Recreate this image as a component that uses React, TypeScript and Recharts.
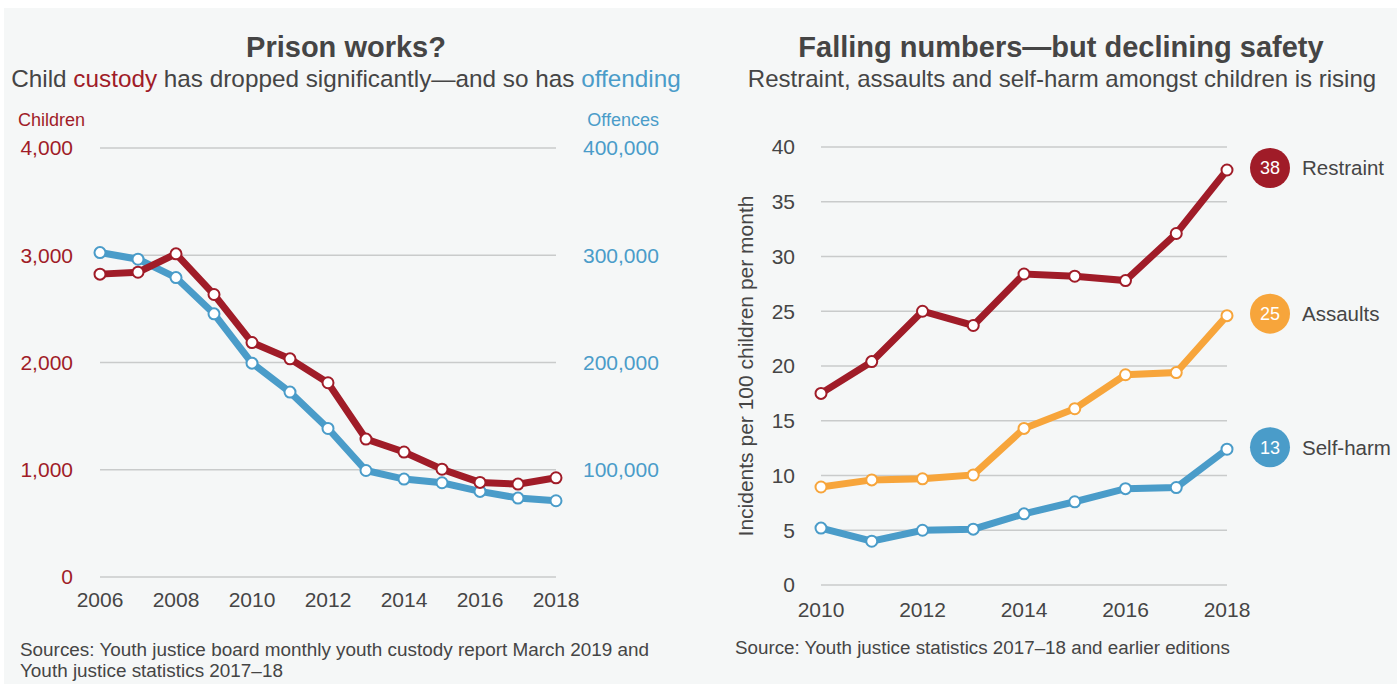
import { CartesianGrid, Line, LineChart, XAxis, YAxis } from "recharts";

const FONT = '"Liberation Sans", Arial, Helvetica, sans-serif';
const RED = "#a01c28";
const BLUE = "#4a9cc9";
const ORANGE = "#f7a53b";
const TEXT = "#454545";
const GRID = "#c9cbcb";

// left chart: children in custody vs proven offences
const custodyYears = [2006, 2007, 2008, 2009, 2010, 2011, 2012, 2013, 2014, 2015, 2016, 2017, 2018];
const children = [2824, 2842, 3013, 2634, 2186, 2034, 1811, 1286, 1165, 1005, 882, 866, 925];
const offences = [302500, 296300, 279200, 245400, 199400, 172400, 138500, 99300, 91300, 87900, 79800, 73600, 71100];
const custodyTicks = [2006, 2008, 2010, 2012, 2014, 2016, 2018];
const childrenTicks = [0, 1000, 2000, 3000, 4000];
const offenceTicks = [100000, 200000, 300000, 400000];

// right chart: incidents per 100 children per month
const safetyYears = [2010, 2011, 2012, 2013, 2014, 2015, 2016, 2017, 2018];
const restraint = [17.5, 20.4, 25.0, 23.7, 28.4, 28.2, 27.8, 32.1, 37.9];
const assaults = [8.95, 9.6, 9.7, 10.05, 14.3, 16.1, 19.2, 19.4, 24.6];
const selfHarm = [5.2, 4.0, 5.0, 5.1, 6.5, 7.6, 8.8, 8.9, 12.4];
const badgeValues = [38, 25, 13];
const safetyTicks = [2010, 2012, 2014, 2016, 2018];
const incidentTicks = [0, 5, 10, 15, 20, 25, 30, 35, 40];

const custodyRows = custodyYears.map((year, i) => ({ year, children: children[i], offences: offences[i] }));
const safetyRows = safetyYears.map((year, i) => ({ year, restraint: restraint[i], assaults: assaults[i], selfHarm: selfHarm[i] }));

const tickStyle = (fill: string) => ({ fill, fontSize: 21, fontFamily: FONT });
const dotStyle = (stroke: string) => ({ r: 5.5, fill: "#fff", stroke, strokeWidth: 2 });
const thousands = (v: number) => v.toLocaleString("en-US");

function badge(color: string, name: string, value: number, last: number) {
  return (props: any) => {
    if (props.index !== last) return null;
    const cx = props.x + 43;
    const cy = props.y - 2;
    return <g>
      <circle cx={cx} cy={cy} r={20} fill={color} />
      <text x={cx} y={cy} dy="0.36em" textAnchor="middle" fill="#fff" fontSize={18} fontFamily={FONT}>{value}</text>
      <text x={cx + 32} y={cy} dy="0.36em" textAnchor="start" fill={TEXT} fontSize={20.5} fontFamily={FONT}>{name}</text>
    </g>;
  };
}

function CustodyChart() {
  return <LineChart width={700} height={684} data={custodyRows} margin={{ top: 148, right: 0, bottom: 67, left: 0 }}>
    <CartesianGrid yAxisId="children" vertical={false} stroke={GRID} strokeWidth={1.5} />
    <XAxis dataKey="year" type="number" domain={[2006, 2018]} ticks={custodyTicks} axisLine={false} tickLine={false} tickSize={0} tickMargin={15} height={40} tick={tickStyle(TEXT)} />
    <YAxis yAxisId="children" domain={[0, 4000]} ticks={childrenTicks} tickFormatter={thousands} axisLine={false} tickLine={false} tickSize={0} tickMargin={27} width={100} tick={tickStyle(RED)} />
    <YAxis yAxisId="offences" orientation="right" domain={[0, 400000]} ticks={offenceTicks} tickFormatter={thousands} axisLine={false} tickLine={false} tickSize={0} tickMargin={27} width={144} tick={tickStyle(BLUE)} />
    <Line yAxisId="offences" dataKey="offences" stroke={BLUE} strokeWidth={7} dot={dotStyle(BLUE)} activeDot={false} isAnimationActive={false} />
    <Line yAxisId="children" dataKey="children" stroke={RED} strokeWidth={7} dot={dotStyle(RED)} activeDot={false} isAnimationActive={false} />
  </LineChart>;
}

function SafetyChart() {
  const last = safetyRows.length - 1;
  return <LineChart width={697} height={684} data={safetyRows} margin={{ top: 147, right: 170, bottom: 59, left: 0 }}>
    <CartesianGrid vertical={false} stroke={GRID} strokeWidth={1.5} />
    <XAxis dataKey="year" type="number" domain={[2010, 2018]} ticks={safetyTicks} axisLine={false} tickLine={false} tickSize={0} tickMargin={17} height={40} tick={tickStyle(TEXT)} />
    <YAxis domain={[0, 40]} ticks={incidentTicks} axisLine={false} tickLine={false} tickSize={0} tickMargin={26} width={121} tick={tickStyle(TEXT)} />
    <Line dataKey="selfHarm" stroke={BLUE} strokeWidth={7} dot={dotStyle(BLUE)} activeDot={false} isAnimationActive={false} label={badge(BLUE, "Self-harm", badgeValues[2], last)} />
    <Line dataKey="assaults" stroke={ORANGE} strokeWidth={7} dot={dotStyle(ORANGE)} activeDot={false} isAnimationActive={false} label={badge(ORANGE, "Assaults", badgeValues[1], last)} />
    <Line dataKey="restraint" stroke={RED} strokeWidth={7} dot={dotStyle(RED)} activeDot={false} isAnimationActive={false} label={badge(RED, "Restraint", badgeValues[0], last)} />
  </LineChart>;
}

export default function App() {
  return <div style={{ position: "absolute", left: 0, top: 0, width: 1397, height: 684, background: "#fff", overflow: "hidden", fontFamily: FONT }}>
    <div style={{ position: "absolute", left: 4, top: 8, right: 0, bottom: 0, background: "#f5f7f7" }} />
    <div style={{ position: "absolute", left: 0, top: 0 }}><CustodyChart /></div>
    <div style={{ position: "absolute", left: 700, top: 0 }}><SafetyChart /></div>
    <svg width={1397} height={684} style={{ position: "absolute", left: 0, top: 0, pointerEvents: "none" }} fontFamily={FONT}>
      <text x={346} y={57} textAnchor="middle" fontSize={29} fontWeight="bold" fill={TEXT}>Prison works?</text>
      <text x={346} y={87} textAnchor="middle" fontSize={24.3} fill={TEXT}>
        Child <tspan fill={RED}>custody</tspan> has dropped significantly—and so has <tspan fill={BLUE}>offending</tspan>
      </text>
      <text x={18} y={126} fontSize={18} fill={RED}>Children</text>
      <text x={659} y={126} textAnchor="end" fontSize={18} fill={BLUE}>Offences</text>
      <text x={20} y={656} fontSize={18.9} fill={TEXT}>Sources: Youth justice board monthly youth custody report March 2019 and</text>
      <text x={20} y={677} fontSize={18.9} fill={TEXT}>Youth justice statistics 2017–18</text>

      <text x={1061} y={57} textAnchor="middle" fontSize={29} fontWeight="bold" fill={TEXT}>Falling numbers—but declining safety</text>
      <text x={1062} y={87} textAnchor="middle" fontSize={24} fill={TEXT}>Restraint, assaults and self-harm amongst children is rising</text>
      <text x={745} y={366} dy="0.36em" textAnchor="middle" fontSize={21} fill={TEXT} transform="rotate(-90 745 366)">Incidents per 100 children per month</text>
      <text x={735} y={654} fontSize={18.8} fill={TEXT}>Source: Youth justice statistics 2017–18 and earlier editions</text>
    </svg>
  </div>;
}
